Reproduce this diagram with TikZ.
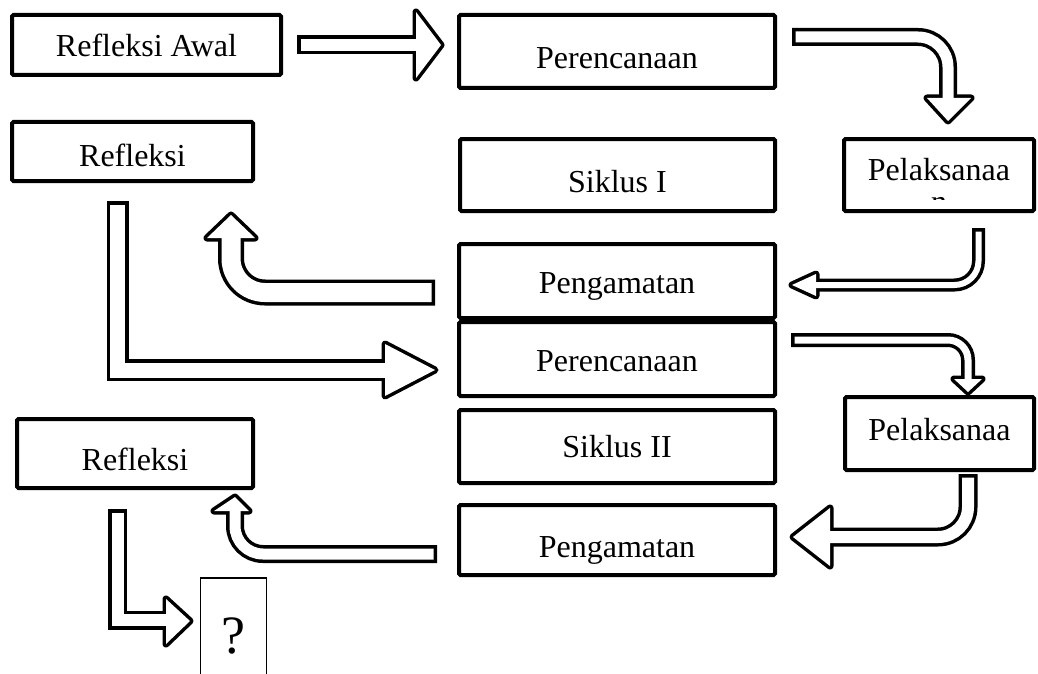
\documentclass[tikz,border=0pt]{standalone}
\usepackage{fontspec}
\setmainfont{Liberation Serif}
\tikzset{
  box/.style={draw, line width=4pt, rounded corners=1.5pt, fill=white,
    font=\fontsize{32}{36}\selectfont, inner sep=0pt,
    text height=26pt, text depth=1pt},
  pelbox/.style={box, text height=12pt, text depth=2pt},
}
% hollow block arrow: #1 inner width, #2 shaft path, #3 head triangle, #4 corner options
\newcommand\hollowarrow[4]{%
  \draw[line width=#1+7pt, #4] #2;
  \fill[line width=7pt, draw, line join=round] #3 -- cycle;
  \draw[line width=#1, white, #4, shorten <=3.5pt] #2;
  \fill[white] #3 -- cycle;
}
\begin{document}
\begin{tikzpicture}[x=1pt, y=-1pt]
\useasboundingbox (0,0) rectangle (1038,674);
\fill[white] (0,0) rectangle (1038,674);

% boxes
\node[box, text height=24pt, minimum width=269pt, minimum height=60pt] (RA) at (146.5,45) {Refleksi Awal};
\node[box, text height=36pt, minimum width=316pt, minimum height=73pt] (P1) at (617,51.5) {Perencanaan};
\node[box, text height=36pt, minimum width=315pt, minimum height=72pt] (S1) at (617.5,175) {Siklus I};
\node[box, minimum width=316pt, minimum height=74pt] (G1) at (617,281) {Pengamatan};
\node[box, minimum width=316pt, minimum height=74pt] (P2) at (617,359) {Perencanaan};
\node[box, text height=22pt, minimum width=316pt, minimum height=73pt] (S2) at (617,446.5) {Siklus II};
\node[box, text height=36pt, minimum width=316pt, minimum height=70pt] (G2) at (617,540) {Pengamatan};
\node[box, text height=30pt, minimum width=241pt, minimum height=59pt] (R1) at (132.5,151.5) {Refleksi};
\node[box, text height=34pt, minimum width=236pt, minimum height=69pt] (R2) at (135,453.5) {Refleksi};
\node[pelbox, minimum width=190pt, minimum height=72pt] (L1) at (939,175) {Pelaksanaa};
\node[pelbox, text height=16pt, minimum width=189pt, minimum height=73pt] (L2) at (939.5,433.5) {Pelaksanaa};
\begin{scope}
  \clip (850,150) rectangle (1030,199.5);
  \node[font=\fontsize{32}{36}\selectfont, anchor=base, inner sep=0pt] (L1n) at (939,212) {n};
\end{scope}
\node[draw, line width=1.2pt, minimum width=66pt, minimum height=124pt,
      inner sep=0pt] (Q) at (233.5,640) {};
\node[font=\fontsize{54}{60}\selectfont, anchor=base, inner sep=0pt] (Qt) at (233,653) {?};

% named arrow coordinates
\coordinate (a1s) at (297,45);   \coordinate (a1b) at (416,45);
\coordinate (a2s) at (792,37);   \coordinate (a2c) at (948,37);  \coordinate (a2b) at (948,98);
\coordinate (a3s) at (978.5,228);\coordinate (a3c) at (978.5,285);\coordinate (a3b) at (816,285);
\coordinate (a4s) at (435,292.5);\coordinate (a4c) at (231,292.5);\coordinate (a4b) at (231,238);
\coordinate (a5s) at (117.5,201);\coordinate (a5c) at (117.5,370);\coordinate (a5b) at (385,370);
\coordinate (a6s) at (791,340);  \coordinate (a6c) at (968,340); \coordinate (a6b) at (968,379);
\coordinate (a7s) at (968,474);  \coordinate (a7c) at (968,537); \coordinate (a7b) at (830,537);
\coordinate (a8s) at (437,554);  \coordinate (a8c) at (235,554); \coordinate (a8b) at (235,511);
\coordinate (a9s) at (117.5,509);\coordinate (a9c) at (117.5,620);\coordinate (a9b) at (166,620);

% RA -> P1
\hollowarrow{12pt}{(a1s) -- (a1b)}{(416,12) -- (441,45) -- (416,78)}{sharp corners}
% P1 -> L1
\hollowarrow{11pt}{(a2s) -- (a2c) -- (a2b)}{(927,98) -- (948,121) -- (971,98)}{rounded corners=30pt}
% L1 -> G1
\hollowarrow{6pt}{(a3s) -- (a3c) -- (a3b)}{(816,274) -- (792,285) -- (816,296)}{rounded corners=24pt}
% G1 -> R1
\hollowarrow{19pt}{(a4s) -- (a4c) -- (a4b)}{(207,238) -- (231,215) -- (255,238)}{rounded corners=34pt}
% R1 -> P2
\hollowarrow{15pt}{(a5s) -- (a5c) -- (a5b)}{(385,344) -- (435,370) -- (385,396)}{sharp corners}
% P2 -> L2
\hollowarrow{7pt}{(a6s) -- (a6c) -- (a6b)}{(954,379) -- (968,392) -- (982,379)}{rounded corners=20pt}
% L2 -> G2
\hollowarrow{12pt}{(a7s) -- (a7c) -- (a7b)}{(830,508) -- (793,537) -- (830,566)}{rounded corners=30pt}
% G2 -> R2
\hollowarrow{11pt}{(a8s) -- (a8c) -- (a8b)}{(214,511) -- (235,497) -- (249,511)}{rounded corners=28pt}
% R2 -> Q
\hollowarrow{12pt}{(a9s) -- (a9c) -- (a9b)}{(166,599) -- (190,621) -- (166,644)}{sharp corners}
\end{tikzpicture}
\end{document}
